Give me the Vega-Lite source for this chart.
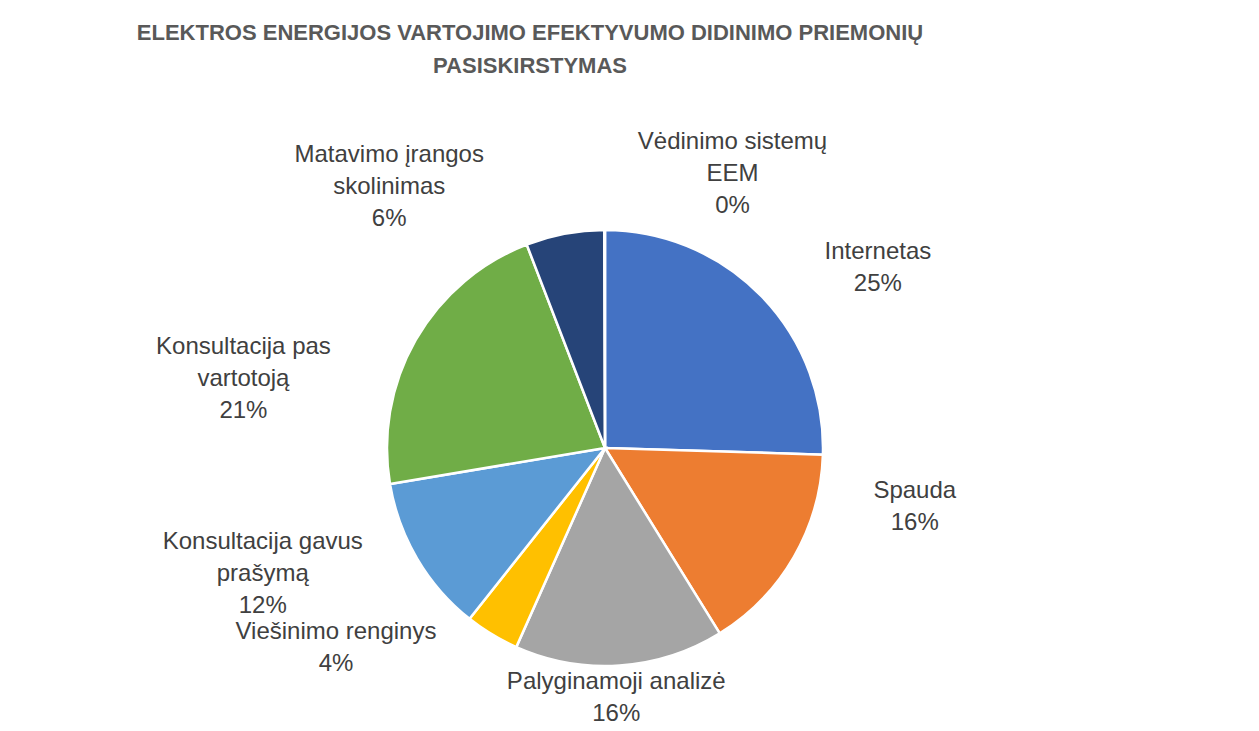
{
  "$schema": "https://vega.github.io/schema/vega-lite/v6.json",
  "autosize": "none",
  "padding": {"left": 5, "top": 8, "right": 0, "bottom": 0},
  "width": 1200,
  "height": 880,
  "background": "white",
  "config": {"view": {"stroke": null}},
  "title": {
    "text": ["ELEKTROS ENERGIJOS VARTOJIMO EFEKTYVUMO DIDINIMO PRIEMONIŲ", "PASISKIRSTYMAS"],
    "anchor": "middle",
    "frame": "group",
    "dx": -75,
    "offset": -94,
    "font": "Liberation Sans",
    "fontSize": 22,
    "fontWeight": "bold",
    "color": "#595959",
    "lineHeight": 33
  },
  "data": {
    "values": [
      {"order": 1, "name": "Internetas", "value": 25.5, "label": ["Internetas", "25%"]},
      {"order": 2, "name": "Spauda", "value": 15.7, "label": ["Spauda", "16%"]},
      {"order": 3, "name": "Palyginamoji analizė", "value": 15.5, "label": ["Palyginamoji analizė", "16%"]},
      {"order": 4, "name": "Viešinimo renginys", "value": 4.0, "label": ["Viešinimo renginys", "4%"]},
      {"order": 5, "name": "Konsultacija gavus prašymą", "value": 11.7, "label": ["Konsultacija gavus", "prašymą", "12%"]},
      {"order": 6, "name": "Konsultacija pas vartotoją", "value": 21.8, "label": ["Konsultacija pas", "vartotoją", "21%"]},
      {"order": 7, "name": "Matavimo įrangos skolinimas", "value": 5.8, "label": ["Matavimo įrangos", "skolinimas", "6%"]},
      {"order": 8, "name": "Vėdinimo sistemų EEM", "value": 0.05, "label": ["Vėdinimo sistemų", "EEM", "0%"]}
    ]
  },
  "encoding": {
    "theta": {"field": "value", "type": "quantitative", "stack": true},
    "order": {"field": "order", "type": "quantitative"}
  },
  "layer": [
    {
      "mark": {"type": "arc", "outerRadius": 218, "stroke": "white", "strokeWidth": 2.5},
      "encoding": {
        "color": {
          "field": "name",
          "type": "nominal",
          "sort": null,
          "legend": null,
          "scale": {
            "domain": ["Internetas", "Spauda", "Palyginamoji analizė", "Viešinimo renginys", "Konsultacija gavus prašymą", "Konsultacija pas vartotoją", "Matavimo įrangos skolinimas", "Vėdinimo sistemų EEM"],
            "range": ["#4472C4", "#ED7D31", "#A5A5A5", "#FFC000", "#5B9BD5", "#70AD47", "#264478", "#9E480E"]
          }
        }
      }
    },
    {
      "mark": {"type": "text", "radius": 330, "dx": 36, "dy": 34, "font": "Liberation Sans", "fontSize": 24, "color": "#404040", "lineHeight": 32, "align": "center", "baseline": "middle"},
      "encoding": {"text": {"condition": {"test": "datum.name === 'Internetas'", "field": "label"}, "value": ""}}
    },
    {
      "mark": {"type": "text", "radius": 330, "dx": 24, "dy": -122, "font": "Liberation Sans", "fontSize": 24, "color": "#404040", "lineHeight": 32, "align": "center", "baseline": "middle"},
      "encoding": {"text": {"condition": {"test": "datum.name === 'Spauda'", "field": "label"}, "value": ""}}
    },
    {
      "mark": {"type": "text", "radius": 330, "dx": -11, "dy": -95, "font": "Liberation Sans", "fontSize": 24, "color": "#404040", "lineHeight": 32, "align": "center", "baseline": "middle"},
      "encoding": {"text": {"condition": {"test": "datum.name === 'Palyginamoji analizė'", "field": "label"}, "value": ""}}
    },
    {
      "mark": {"type": "text", "radius": 330, "dx": -98, "dy": -98, "font": "Liberation Sans", "fontSize": 24, "color": "#404040", "lineHeight": 32, "align": "center", "baseline": "middle"},
      "encoding": {"text": {"condition": {"test": "datum.name === 'Viešinimo renginys'", "field": "label"}, "value": ""}}
    },
    {
      "mark": {"type": "text", "radius": 330, "dx": -58, "dy": -74, "font": "Liberation Sans", "fontSize": 24, "color": "#404040", "lineHeight": 32, "align": "center", "baseline": "middle"},
      "encoding": {"text": {"condition": {"test": "datum.name === 'Konsultacija gavus prašymą'", "field": "label"}, "value": ""}}
    },
    {
      "mark": {"type": "text", "radius": 330, "dx": -75, "dy": 63, "font": "Liberation Sans", "fontSize": 24, "color": "#404040", "lineHeight": 32, "align": "center", "baseline": "middle"},
      "encoding": {"text": {"condition": {"test": "datum.name === 'Konsultacija pas vartotoją'", "field": "label"}, "value": ""}}
    },
    {
      "mark": {"type": "text", "radius": 330, "dx": -155, "dy": 31, "font": "Liberation Sans", "fontSize": 24, "color": "#404040", "lineHeight": 32, "align": "center", "baseline": "middle"},
      "encoding": {"text": {"condition": {"test": "datum.name === 'Matavimo įrangos skolinimas'", "field": "label"}, "value": ""}}
    },
    {
      "mark": {"type": "text", "radius": 330, "dx": 128, "dy": 24, "font": "Liberation Sans", "fontSize": 24, "color": "#404040", "lineHeight": 32, "align": "center", "baseline": "middle"},
      "encoding": {"text": {"condition": {"test": "datum.name === 'Vėdinimo sistemų EEM'", "field": "label"}, "value": ""}}
    }
  ]
}
